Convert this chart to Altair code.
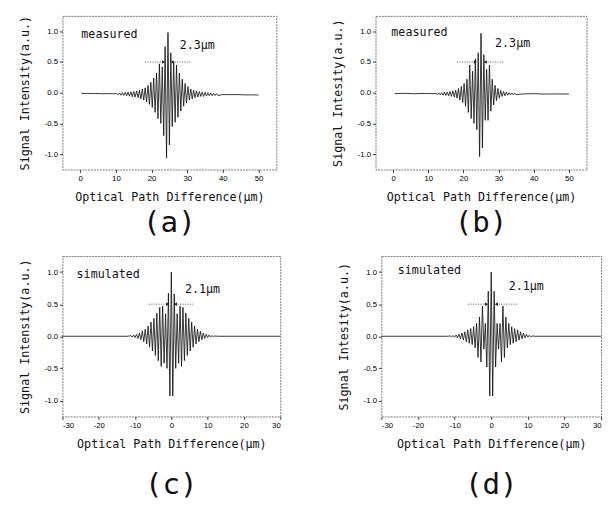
import altair as alt
import pandas as pd

MONO = "DejaVu Sans Mono"
SANS = "Liberation Sans"

# ---------------- panel (a): measured ----------------
a_x = [0.3, 2.0, 4.0, 6.0, 8.0, 9.4,
       10.2, 10.6, 11.0, 11.4, 11.8, 12.2, 12.6, 13.0, 13.4, 13.8,
       14.2, 14.6, 15.0, 15.4, 15.8, 16.2, 16.6, 17.0, 17.4, 17.8,
       18.2, 18.6, 19.0, 19.4, 19.8, 20.2, 20.6, 21.0, 21.4, 21.8,
       22.2, 22.6, 23.0, 23.4, 23.8, 24.2, 24.6, 25.0, 25.4, 25.8,
       26.2, 26.6, 27.0, 27.4, 27.8, 28.2, 28.6, 29.0, 29.4, 29.8,
       30.2, 30.6, 31.0, 31.4, 31.8, 32.2, 32.6, 33.0, 33.4, 33.8,
       34.2, 34.6, 35.0, 35.4, 35.8, 36.2, 36.6, 37.0, 37.4, 37.8,
       38.2, 38.6,
       40.0, 42.0, 44.0, 46.0, 48.0, 50.0]
a_y = [-0.010, -0.014, -0.012, -0.016, -0.015, -0.018,
       -0.010, -0.035, -0.005, -0.040, 0.000, -0.045, 0.005, -0.050, 0.010, -0.055,
       0.015, -0.065, 0.020, -0.070, 0.030, -0.080, 0.040, -0.100, 0.060, -0.120,
       0.080, -0.150, 0.120, -0.190, 0.170, -0.240, 0.240, -0.320, 0.320, -0.420,
       0.470, -0.500, 0.420, -0.700, 0.750, -1.060, 0.980, -0.850, 0.650, -0.550,
       0.500, -0.480, 0.450, -0.400, 0.320, -0.300, 0.220, -0.220, 0.150, -0.170,
       0.100, -0.120, 0.060, -0.100, 0.040, -0.080, 0.030, -0.070, 0.020, -0.060,
       0.010, -0.060, 0.005, -0.055, 0.000, -0.050, -0.005, -0.050, -0.010, -0.045,
       -0.015, -0.045,
       -0.030, -0.032, -0.030, -0.035, -0.034, -0.038]

# ---------------- panel (b): measured ----------------
b_x = [0.5, 3.0, 6.0, 9.0, 11.4,
       12.2, 12.6, 13.0, 13.4, 13.8, 14.2, 14.6, 15.0, 15.4, 15.8,
       16.2, 16.6, 17.0, 17.4, 17.8, 18.2, 18.6, 19.0, 19.4, 19.8,
       20.2, 20.6, 21.0, 21.4, 21.8, 22.2, 22.6, 23.0, 23.4, 23.8,
       24.2, 24.6, 25.0, 25.4, 25.8, 26.2, 26.6, 27.0, 27.4, 27.8,
       28.2, 28.6, 29.0, 29.4, 29.8, 30.2, 30.6, 31.0, 31.4, 31.8,
       32.2, 32.6, 33.0, 33.4, 33.8, 34.2, 34.6, 35.0,
       37.0, 40.0, 43.0, 46.0, 50.0]
b_y = [-0.015, -0.010, -0.016, -0.012, -0.015,
       -0.010, -0.030, -0.005, -0.035, 0.000, -0.040, 0.010, -0.045, 0.010, -0.050,
       0.020, -0.060, 0.030, -0.070, 0.040, -0.090, 0.070, -0.120, 0.100, -0.160,
       0.150, -0.220, 0.220, -0.320, 0.450, -0.420, 0.350, -0.500, 0.550, -0.600,
       0.650, -1.040, 0.970, -0.900, 0.620, -0.450, 0.380, -0.450, 0.450, -0.300,
       0.220, -0.200, 0.120, -0.130, 0.070, -0.090, 0.040, -0.060, 0.020, -0.050,
       0.010, -0.040, 0.000, -0.035, -0.005, -0.035, -0.010, -0.030,
       -0.020, -0.015, -0.022, -0.020, -0.022]

# ---------------- panel (c): simulated ----------------
c_x = [-30.0, -12.0,
       -11.2, -10.8, -10.4, -10.0, -9.6, -9.2, -8.8, -8.4, -8.0, -7.6,
       -7.2, -6.8, -6.4, -6.0, -5.6, -5.2, -4.8, -4.4, -4.0, -3.6,
       -3.2, -2.8, -2.4, -2.0, -1.6, -1.2, -0.8, -0.4, 0.0, 0.4,
       0.8, 1.2, 1.6, 2.0, 2.4, 2.8, 3.2, 3.6, 4.0, 4.4,
       4.8, 5.2, 5.6, 6.0, 6.4, 6.8, 7.2, 7.6, 8.0, 8.4,
       8.8, 9.2, 9.6, 10.0, 10.4, 10.8, 11.2, 11.6, 12.0,
       13.0, 30.0]
c_y = [0.0, 0.0,
       0.010, -0.012, 0.020, -0.020, 0.030, -0.035, 0.050, -0.055, 0.080, -0.085,
       0.110, -0.120, 0.160, -0.170, 0.220, -0.230, 0.280, -0.300, 0.360, -0.380,
       0.450, -0.470, 0.470, -0.420, 0.350, -0.500, 0.670, -0.930, 1.000, -0.930,
       0.660, -0.500, 0.350, -0.420, 0.470, -0.470, 0.450, -0.380, 0.360, -0.300,
       0.280, -0.230, 0.220, -0.170, 0.160, -0.120, 0.110, -0.085, 0.080, -0.055,
       0.050, -0.035, 0.030, -0.020, 0.020, -0.012, 0.010, -0.006, 0.004,
       0.0, 0.0]

# ---------------- panel (d): simulated ----------------
d_x = [-30.0, -12.0,
       -11.2, -10.8, -10.4, -10.0, -9.6, -9.2, -8.8, -8.4, -8.0, -7.6,
       -7.2, -6.8, -6.4, -6.0, -5.6, -5.2, -4.8, -4.4, -4.0, -3.6,
       -3.2, -2.8, -2.4, -2.0, -1.6, -1.2, -0.8, -0.4, 0.0, 0.4,
       0.8, 1.2, 1.6, 2.0, 2.4, 2.8, 3.2, 3.6, 4.0, 4.4,
       4.8, 5.2, 5.6, 6.0, 6.4, 6.8, 7.2, 7.6, 8.0, 8.4,
       8.8, 9.2, 9.6, 10.0, 10.4, 10.8, 11.2,
       12.0, 30.0]
d_y = [0.0, 0.0,
       0.005, -0.008, 0.012, -0.015, 0.020, -0.025, 0.030, -0.040, 0.050, -0.060,
       0.070, -0.085, 0.100, -0.110, 0.120, -0.130, 0.150, -0.180, 0.200, -0.330,
       0.300, -0.400, 0.470, -0.200, 0.200, -0.480, 0.700, -0.930, 1.000, -0.930,
       0.700, -0.480, 0.200, -0.200, 0.200, -0.400, 0.470, -0.330, 0.300, -0.180,
       0.200, -0.130, 0.150, -0.110, 0.120, -0.085, 0.100, -0.060, 0.070, -0.040,
       0.050, -0.025, 0.030, -0.015, 0.015, -0.008, 0.005,
       0.0, 0.0]

# annotation values: [left end, left arrow tip, right arrow tip, right end]
a_fwhm = [18.2, 23.4, 25.8, 31.3]
b_fwhm = [18.2, 23.4, 26.2, 31.7]
c_fwhm = [-6.2, -1.0, 1.1, 6.0]
d_fwhm = [-6.3, -1.3, 1.4, 7.2]

Y_TICKS = [-1.0, -0.5, 0.0, 0.5, 1.0]
AB_TICKS = [0, 10, 20, 30, 40, 50]
CD_TICKS = [-30, -20, -10, 0, 10, 20, 30]

X_TITLE = "Optical Path Difference(μm)"
MINUS = "replace(format(datum.value, '{f}'), '\u2212', '-')"


def panel(xs, ys, xdom, xticks, ytitle, fwhm, word, wpos, width_label, lpos,
          letter, w, h, loff):
    xenc = alt.X("x:Q", scale=alt.Scale(domain=xdom, nice=False, zero=False),
                 axis=alt.Axis(values=xticks, title=X_TITLE,
                               labelExpr=MINUS.format(f="d")))
    yenc = alt.Y("y:Q", scale=alt.Scale(domain=[-1.25, 1.25], nice=False,
                                        zero=False),
                 axis=alt.Axis(values=Y_TICKS, title=ytitle,
                               labelExpr=MINUS.format(f=".1f")))
    sig = pd.DataFrame({"x": xs, "y": ys})
    line = alt.Chart(sig).mark_line(color="#111", strokeWidth=0.85).encode(
        x=xenc, y=yenc)
    seg = pd.DataFrame({"x": [fwhm[0], fwhm[2]], "x2": [fwhm[1], fwhm[3]],
                        "y": [0.5, 0.5]})
    rule = alt.Chart(seg).mark_rule(color="#555", strokeWidth=1,
                                    strokeDash=[1, 1.5]).encode(
        x=xenc, x2="x2:Q", y=yenc)
    arr = pd.DataFrame({"x": [fwhm[1], fwhm[2]], "y": [0.5, 0.5],
                        "s": ["triangle-right", "triangle-left"]})
    arrows = alt.Chart(arr).mark_point(filled=True, size=14, color="#222",
                                       opacity=1).encode(
        x=xenc, y=yenc, shape=alt.Shape("s:N", scale=None))
    txt = pd.DataFrame({"x": [wpos[0], lpos[0]], "y": [wpos[1], lpos[1]],
                        "t": [word, width_label]})
    texts = alt.Chart(txt).mark_text(font=MONO, fontSize=12, align="left",
                                     baseline="middle", color="#111").encode(
        x=xenc, y=yenc, text="t:N")
    return alt.layer(line, rule, arrows, texts).properties(
        width=w, height=h,
        title=alt.TitleParams(text=letter, orient="bottom", anchor="middle",
                              font=MONO, fontSize=30, fontWeight="normal",
                              color="#111", offset=loff),
    )


pa = panel(a_x, a_y, [-5, 55], AB_TICKS, "Signal Intensity(a.u.)", a_fwhm,
           "measured", (0.3, 0.96), "2.3μm", (27.9, 0.78), "(a)", 220, 158, 6)
pb = panel(b_x, b_y, [-5, 55], AB_TICKS, "Signal Intesity(a.u.)", b_fwhm,
           "measured", (-0.5, 0.99), "2.3μm", (29.0, 0.80), "(b)", 217, 158, 6)
pc = panel(c_x, c_y, [-30, 30], CD_TICKS, "Signal Intensity(a.u.)", c_fwhm,
           "simulated", (-26.1, 0.97), "2.1μm", (3.75, 0.74), "(c)", 224, 165, 22)
pd_ = panel(d_x, d_y, [-30, 30], CD_TICKS, "Signal Intesity(a.u.)", d_fwhm,
            "simulated", (-25.5, 1.03), "2.1μm", (4.8, 0.78), "(d)", 226, 165, 22)

top = alt.hconcat(pa, pb, spacing=55)
bottom = alt.hconcat(pc, pd_, spacing=55)

chart = alt.vconcat(top, bottom, spacing=17).properties(
    padding={"left": 10, "top": 0, "right": 0, "bottom": 0}
).configure_view(
    stroke="#777", strokeWidth=1, strokeDash=[2, 1]
).configure_axis(
    domain=False, grid=False, ticks=True, tickSize=3, tickColor="#333",
    labelFont=SANS, labelFontSize=8, labelColor="#000", labelPadding=2,
    titleFont=MONO, titleFontSize=12, titleFontWeight="normal",
    titleColor="#111",
).configure_axisY(titlePadding=13).configure_axisX(titlePadding=10)

chart.save("out.html", embed_options={"renderer": "svg", "actions": False})
